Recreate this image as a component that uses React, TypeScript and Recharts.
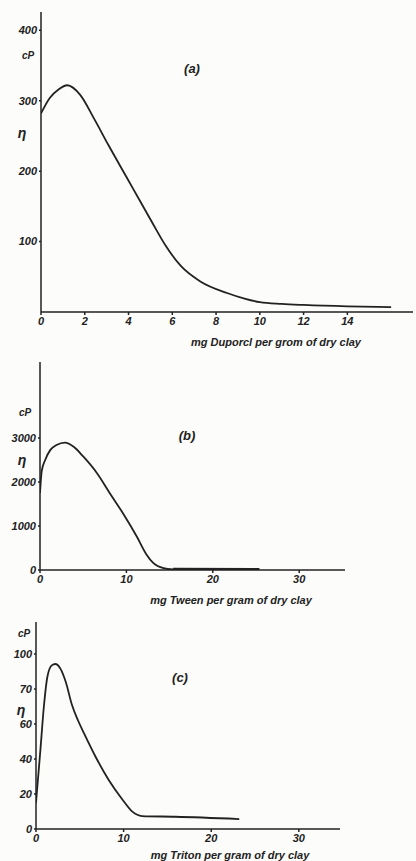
import React from 'react';
import { LineChart, Line, XAxis, YAxis } from 'recharts';

// ---------- data ----------
const duporclX = [0, 0.4, 0.8, 1.2, 1.8, 2.4, 3.1, 3.9, 4.5, 5.1, 5.7, 6.4, 7.3, 8.5, 9.3, 10, 11, 12, 14, 16];
const duporclY = [282, 304, 316, 322, 308, 276, 236, 192, 159, 126, 94, 65, 43, 27, 19, 14, 11.5, 10, 8, 7];
const duporclXTicks = [0, 2, 4, 6, 8, 10, 12, 14];
const duporclYTicks = [100, 200, 300, 400];

const tweenX = [0, 0.2, 0.6, 1.2, 1.9, 2.9, 3.9, 5.0, 6.6, 8.1, 9.6, 11.2, 12.3, 13.1, 14.3, 15.4];
const tweenY = [1750, 2250, 2500, 2730, 2840, 2895, 2800, 2580, 2200, 1740, 1290, 760, 360, 160, 40, 12];
const tweenFlatX = [15.4, 25.4];
const tweenFlatY = [10, 3];
const tweenXTicks = [0, 10, 20, 30];
const tweenYTicks = [0, 1000, 2000, 3000];

const tritonX = [0, 0.5, 0.9, 1.3, 1.8, 2.2, 2.8, 3.4, 4.1, 4.8, 5.5, 6.8, 8.3, 9.9, 11, 12.1, 15.9, 23.2];
const tritonY = [15, 45, 70, 87, 93.5, 94.3, 91.5, 84, 71, 62, 54.5, 41.3, 28, 16.6, 9.9, 7.4, 7, 5.7];
const tritonXTicks = [0, 10, 20, 30];
const tritonYTicks = [0, 20, 40, 60, 80, 100];
const tritonYTickLabels = ['0', '20', '40', '60', '70', '100'];

const titleA = 'mg Duporcl per grom of dry clay';
const titleB = 'mg Tween per gram of dry clay';
const titleC = 'mg Triton per gram of dry clay';

// ---------- styling ----------
const FONT = '"Liberation Sans", Arial, sans-serif';
const INK = '#222222';
const tickStyle = { fontSize: 11, fontStyle: 'italic', fontWeight: 700, fill: INK, fontFamily: FONT };

const zip = (xs: number[], ys: number[]) => xs.map((x, i) => ({ x, y: ys[i] }));

type Note = { text: string; x: number; y: number; size: number };
const makeNotes = (notes: Note[]) => () => (
  <g>
    {notes.map((n, i) => (
      <text
        key={i}
        x={n.x}
        y={n.y}
        textAnchor="middle"
        dominantBaseline="central"
        fontSize={n.size}
        fontStyle="italic"
        fontWeight={700}
        fill={INK}
        fontFamily={FONT}
      >
        {n.text}
      </text>
    ))}
  </g>
);

type Series = { data: { x: number; y: number }[]; width: number };

type PanelProps = {
  top: number;
  height: number;
  marginRight: number;
  yWidth: number;
  xHeight: number;
  xDomain: [number, number];
  yDomain: [number, number];
  xTicks: number[];
  yTicks: number[];
  yFmt?: (v: number) => string;
  series: Series[];
  notes: Note[];
};

function Panel(p: PanelProps) {
  return (
    <div style={{ position: 'absolute', left: 0, top: p.top }}>
      <LineChart width={416} height={p.height} margin={{ top: 12, right: p.marginRight, left: 0, bottom: 0 }}>
        <XAxis
          type="number"
          dataKey="x"
          domain={p.xDomain}
          ticks={p.xTicks}
          interval={0}
          allowDataOverflow
          height={p.xHeight}
          tick={tickStyle}
          tickSize={3}
          tickMargin={2}
          stroke={INK}
          strokeWidth={1.5}
          label={makeNotes(p.notes)}
        />
        <YAxis
          type="number"
          dataKey="y"
          domain={p.yDomain}
          ticks={p.yTicks}
          interval={0}
          allowDataOverflow
          width={p.yWidth}
          tick={tickStyle}
          tickSize={2}
          tickMargin={2}
          stroke={INK}
          strokeWidth={1.5}
          tickFormatter={p.yFmt}
        />
        {p.series.map((s, i) => (
          <Line
            key={i}
            data={s.data}
            dataKey="y"
            type="monotone"
            stroke={INK}
            strokeWidth={s.width}
            dot={false}
            activeDot={false}
            isAnimationActive={false}
          />
        ))}
      </LineChart>
    </div>
  );
}

export default function App() {
  return (
    <div style={{ position: 'absolute', left: 0, top: 0, width: 416, height: 861, background: '#fcfcfa', overflow: 'hidden' }}>
      <Panel
        top={0}
        height={352}
        marginRight={3}
        yWidth={41}
        xHeight={40}
        xDomain={[0, 17]}
        yDomain={[0, 426]}
        xTicks={duporclXTicks}
        yTicks={duporclYTicks}
        series={[{ data: zip(duporclX, duporclY), width: 1.8 }]}
        notes={[
          { text: 'cP', x: 28, y: 55, size: 10 },
          { text: 'η', x: 22, y: 133, size: 14 },
          { text: '(a)', x: 192, y: 68, size: 13 },
          { text: titleA, x: 276, y: 342, size: 11 },
        ]}
      />
      <Panel
        top={350}
        height={260}
        marginRight={71}
        yWidth={40}
        xHeight={40}
        xDomain={[0, 35.3]}
        yDomain={[0, 4727]}
        xTicks={tweenXTicks}
        yTicks={tweenYTicks}
        series={[
          { data: zip(tweenX, tweenY), width: 1.8 },
          { data: zip(tweenFlatX, tweenFlatY), width: 3.5 },
        ]}
        notes={[
          { text: 'cP', x: 25, y: 62, size: 10 },
          { text: 'η', x: 22, y: 110, size: 14 },
          { text: '(b)', x: 187, y: 85, size: 13 },
          { text: titleB, x: 231, y: 250, size: 11 },
        ]}
      />
      <Panel
        top={610}
        height={251}
        marginRight={76}
        yWidth={36}
        xHeight={32}
        xDomain={[0, 34.7]}
        yDomain={[0, 118.3]}
        xTicks={tritonXTicks}
        yTicks={tritonYTicks}
        yFmt={(v: number) => tritonYTickLabels[tritonYTicks.indexOf(v)] ?? String(v)}
        series={[{ data: zip(tritonX, tritonY), width: 1.8 }]}
        notes={[
          { text: 'cP', x: 24, y: 23, size: 10 },
          { text: 'η', x: 21, y: 100, size: 14 },
          { text: '(c)', x: 180, y: 67, size: 13 },
          { text: titleC, x: 230, y: 245, size: 11 },
        ]}
      />
    </div>
  );
}
